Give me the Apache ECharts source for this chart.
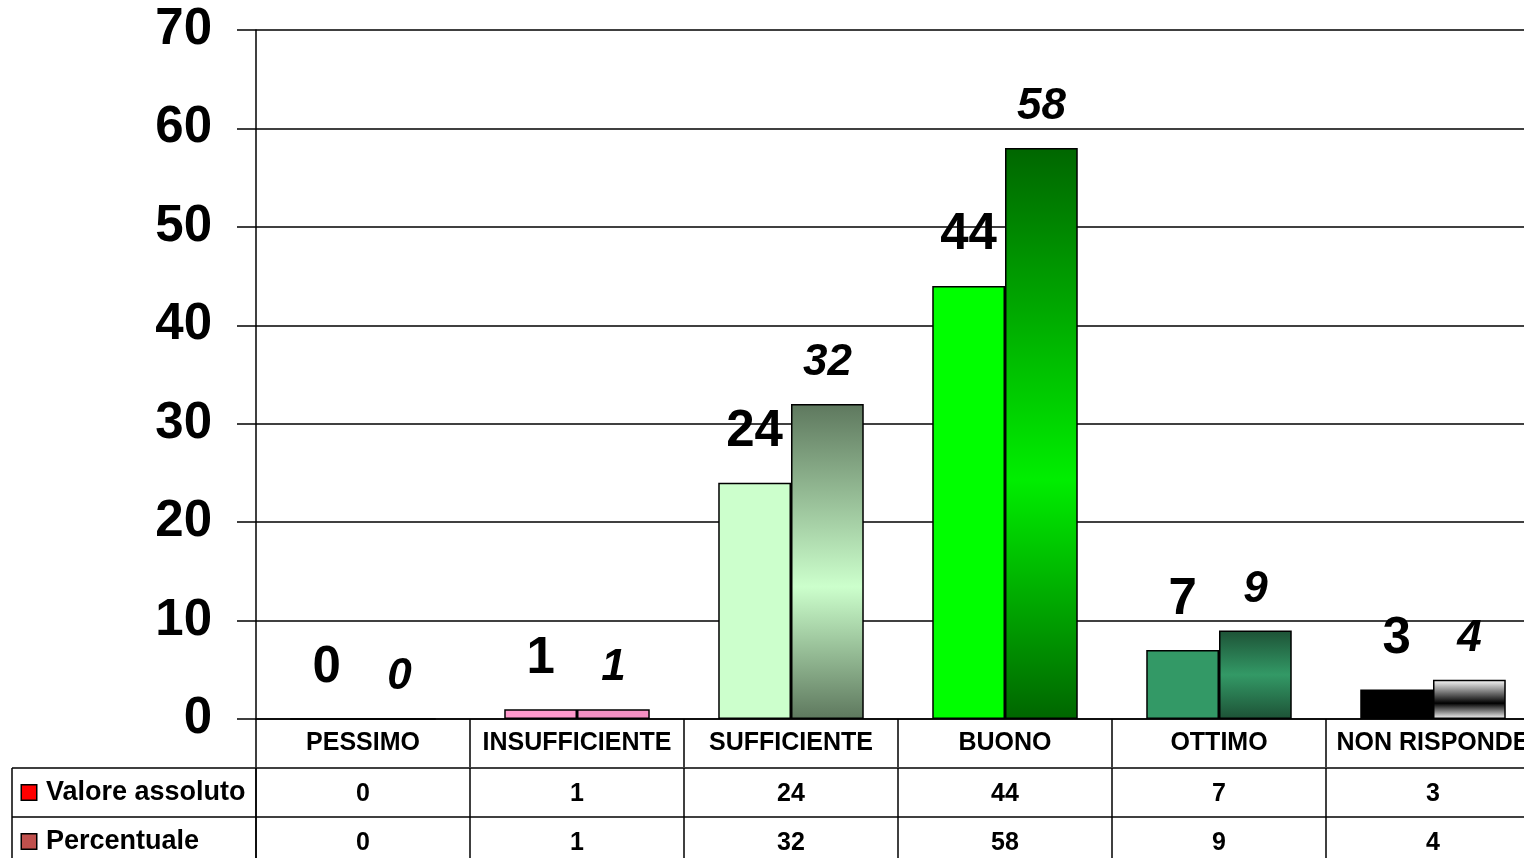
<!DOCTYPE html>
<html lang="it">
<head>
    <meta charset="utf-8">
    <title>Giudizio</title>
    <script src="https://cdn.jsdelivr.net/npm/echarts@6/dist/echarts.min.js"></script>
    <style>
        html, body { margin: 0; padding: 0; background: #fff; }
        #grafico { width: 1524px; height: 858px; }
    </style>
</head>
<body>
<div id="grafico"></div>
<script>
    // dati
    let categorie = ['PESSIMO', 'INSUFFICIENTE', 'SUFFICIENTE', 'BUONO', 'OTTIMO', 'NON RISPONDE'];
    let serie = ['Valore assoluto', 'Percentuale'];
    let valoreAssoluto = [0, 1, 24, 44, 7, 3];
    let percentuale = [0, 1, 32, 58, 9, 4];

    let font = "'Liberation Sans', Arial, sans-serif";

    // sfumatura verticale scuro -> chiaro -> scuro
    function sfum(bordo, centro, pos) {
        return {
            type: 'linear', x: 0, y: 0, x2: 0, y2: 1,
            colorStops: [
                {offset: 0, color: bordo},
                {offset: pos, color: centro},
                {offset: 1, color: bordo}
            ]
        };
    }

    let coloriAssoluto = ['#FF99CC', '#FF99CC', '#CCFFCC', '#00FF00', '#339966', '#000000'];
    let coloriPerc = ['#F590C4', '#F590C4', sfum('#5E785E', '#CCFFCC', 0.58), sfum('#006600', '#00EE00', 0.58),
        sfum('#1D5236', '#339966', 0.5), sfum('#FFFFFF', '#000000', 0.6)];
    let coloriLegenda = ['#FF0000', '#C0504D'];

    let myChart = echarts.init(document.getElementById('grafico'));

    function barre(valori, colori) {
        return valori.map(function (v, i) {
            return {value: v, itemStyle: {color: colori[i]}};
        });
    }

    let tabella = [];
    [valoreAssoluto, percentuale].forEach(function (valori, r) {
        categorie.forEach(function (c, i) {
            tabella.push([c, serie[r], valori[i]]);
        });
    });

    let option = {
        animation: false,
        backgroundColor: '#fff',
        textStyle: {fontFamily: font},
        grid: [
            {left: 256, top: 30, width: 1284, height: 689, outerBoundsMode: 'none', containLabel: false},
            {left: 256, top: 768, width: 1284, height: 98, outerBoundsMode: 'none', containLabel: false}
        ],
        xAxis: [
            {
                type: 'category',
                gridIndex: 0,
                data: categorie,
                axisLine: {show: true, lineStyle: {color: '#000', width: 1.5}},
                axisTick: {show: true, alignWithLabel: false, interval: 0, length: 48, lineStyle: {color: '#000', width: 1.5}},
                axisLabel: {interval: 0, margin: 12, color: '#000', fontSize: 25, fontWeight: 'bold', fontFamily: font, hideOverlap: false},
                splitLine: {show: false}
            },
            {
                type: 'category',
                gridIndex: 1,
                data: categorie,
                axisLine: {show: false},
                axisTick: {show: false},
                axisLabel: {show: false},
                splitLine: {show: true, interval: 0, lineStyle: {color: '#000', width: 1.5}}
            }
        ],
        yAxis: [
            {
                type: 'value',
                gridIndex: 0,
                min: 0,
                max: 70,
                interval: 10,
                axisLine: {show: true, lineStyle: {color: '#000', width: 1.5}},
                axisTick: {show: true, length: 19, lineStyle: {color: '#000', width: 1.5}},
                axisLabel: {margin: 44, color: '#000', fontSize: 51, fontWeight: 'bold', fontFamily: font},
                splitLine: {show: true, lineStyle: {color: '#000', width: 1.5}}
            },
            {
                type: 'category',
                gridIndex: 1,
                inverse: true,
                data: serie,
                axisLine: {show: true, lineStyle: {color: '#000', width: 1.5}},
                axisTick: {show: true, alignWithLabel: false, interval: 0, length: 244, lineStyle: {color: '#000', width: 1.5}},
                axisLabel: {
                    margin: 234,
                    align: 'left',
                    formatter: function (v, i) {
                        return '{k' + i + '|}{t|' + v + '}';
                    },
                    rich: {
                        k0: {width: 14, height: 14, backgroundColor: coloriLegenda[0], borderColor: '#000', borderWidth: 1.5},
                        k1: {width: 14, height: 14, backgroundColor: coloriLegenda[1], borderColor: '#000', borderWidth: 1.5},
                        t: {fontSize: 27, fontWeight: 'bold', color: '#000', fontFamily: font, padding: [0, 0, 0, 10]}
                    }
                },
                splitLine: {show: true, interval: 0, lineStyle: {color: '#000', width: 1.5}}
            }
        ],
        graphic: [
            {type: 'line', shape: {x1: 12, y1: 768, x2: 12, y2: 858}, style: {stroke: '#000', lineWidth: 1.5}}
        ],
        series: [
            {
                name: serie[0],
                type: 'bar',
                xAxisIndex: 0,
                yAxisIndex: 0,
                barGap: '0%',
                barCategoryGap: '32%',
                data: barre(valoreAssoluto, coloriAssoluto),
                itemStyle: {borderColor: '#000', borderWidth: 1.5},
                label: {show: true, position: 'top', distance: 25, color: '#000', fontSize: 51, fontWeight: 'bold', fontFamily: font}
            },
            {
                name: serie[1],
                type: 'bar',
                xAxisIndex: 0,
                yAxisIndex: 0,
                barGap: '0%',
                barCategoryGap: '32%',
                data: barre(percentuale, coloriPerc),
                itemStyle: {borderColor: '#000', borderWidth: 1.5},
                label: {show: true, position: 'top', distance: 19, color: '#000', fontSize: 44, fontWeight: 'bold', fontStyle: 'italic', fontFamily: font}
            },
            {
                name: 'tabella',
                type: 'scatter',
                xAxisIndex: 1,
                yAxisIndex: 1,
                silent: true,
                symbol: 'rect',
                symbolSize: 0,
                itemStyle: {color: '#fff', opacity: 1},
                data: tabella,
                label: {
                    show: true,
                    position: 'inside',
                    offset: [0, 2],
                    color: '#000',
                    opacity: 1,
                    textBorderWidth: 0,
                    fontSize: 25,
                    fontWeight: 'bold',
                    fontFamily: font,
                    formatter: function (p) {
                        return p.value[2];
                    }
                }
            }
        ]
    };
    myChart.setOption(option);
</script>
</body>
</html>
